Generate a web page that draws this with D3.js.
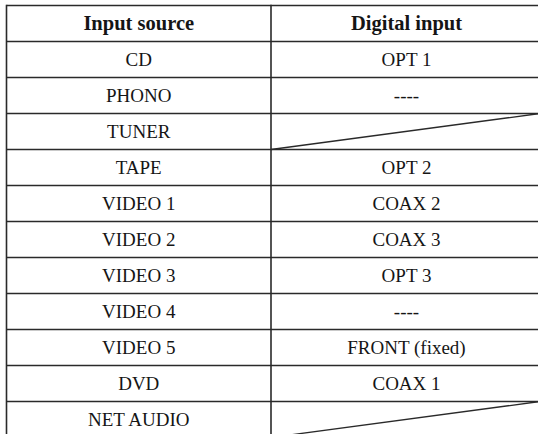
<!DOCTYPE html>
<html>
<head>
<meta charset="utf-8">
<script src="https://cdn.jsdelivr.net/npm/d3@7"></script>
<style>
  html, body { margin: 0; padding: 0; background: #fff; }
  svg { display: block; }
</style>
</head>
<body>
<div id="chart"></div>
<script>
const headers = ["Input source", "Digital input"];
const sources = ["CD", "PHONO", "TUNER", "TAPE", "VIDEO 1", "VIDEO 2", "VIDEO 3", "VIDEO 4", "VIDEO 5", "DVD", "NET AUDIO"];
const digitalInputs = ["OPT 1", "----", null, "OPT 2", "COAX 2", "COAX 3", "OPT 3", "----", "FRONT (fixed)", "COAX 1", null];

const W = 538, H = 434;
const svg = d3.select("#chart").append("svg").attr("width", W).attr("height", H);

const rowKeys = d3.range(sources.length + 1);
const y = d3.scaleBand().domain(rowKeys).range([5.5, 5.5 + 36 * rowKeys.length]).paddingInner(0).paddingOuter(0);
const colEdges = [6.5, 271, 542];
const colCenter = i => (colEdges[i] + colEdges[i + 1]) / 2;

const lineColor = "#2a2a2a";
const lw = 1.6;

const rows = rowKeys.map(i => i === 0
  ? { cells: headers, header: true }
  : { cells: [sources[i - 1], digitalInputs[i - 1]], header: false });

const g = svg.append("g");

const hLines = rowKeys.map(k => y(k)).concat([y(rowKeys.length - 1) + y.bandwidth()]);
g.selectAll("line.h").data(hLines).join("line")
  .attr("class", "h")
  .attr("x1", colEdges[0]).attr("x2", colEdges[2])
  .attr("y1", d => d).attr("y2", d => d)
  .attr("stroke", lineColor).attr("stroke-width", lw);

const yTop = y(0), yBot = y(rowKeys.length - 1) + y.bandwidth();
g.selectAll("line.v").data(colEdges).join("line")
  .attr("class", "v")
  .attr("x1", d => d).attr("x2", d => d)
  .attr("y1", yTop - lw / 2).attr("y2", yBot)
  .attr("stroke", lineColor).attr("stroke-width", lw);

rows.forEach((r, i) => {
  if (!r.header && r.cells[1] === null) {
    g.append("line")
      .attr("x1", colEdges[1]).attr("y1", y(i) + y.bandwidth())
      .attr("x2", colEdges[2] - 2).attr("y2", y(i))
      .attr("stroke", lineColor).attr("stroke-width", 1.3);
  }
});

rows.forEach((r, i) => {
  r.cells.forEach((c, j) => {
    if (c === null) return;
    const fs = r.header ? 20.5 : 19;
    g.append("text")
      .attr("x", colCenter(j))
      .attr("y", y(i) + y.bandwidth() / 2 + fs * 0.34)
      .attr("text-anchor", "middle")
      .attr("font-family", "'Liberation Serif', 'Times New Roman', serif")
      .attr("font-size", fs)
      .attr("font-weight", r.header ? "bold" : "normal")
      .attr("fill", "#151515")
      .text(c);
  });
});
</script>
</body>
</html>
